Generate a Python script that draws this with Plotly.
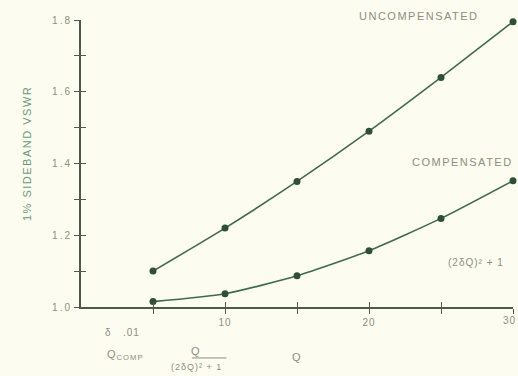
import plotly.graph_objects as go

# data
q_vals = [5, 10, 15, 20, 25, 30]
vswr_uncomp = [1.10, 1.22, 1.35, 1.49, 1.64, 1.795]
vswr_comp = [1.015, 1.037, 1.087, 1.157, 1.247, 1.352]

y_major = [1.0, 1.2, 1.4, 1.6, 1.8]
y_minor = [1.1, 1.3, 1.5, 1.7]
y_labels = ["1.0", "1.2", "1.4", "1.6", "1.8"]
x_major = [10, 20, 30]
x_minor = [5, 15, 25]
x_labels = ["10", "20", "30"]

X_RANGE = [0, 30]
Y_RANGE = [1.0, 1.8]

bg = "#fcfcf0"
axis_col = "#4d5a4a"
line_col = "#3f6a50"
text_col = "#8c8f80"
font = "Liberation Sans, Arial, sans-serif"


def px(x):
    return (x - X_RANGE[0]) / (X_RANGE[1] - X_RANGE[0])


def py(y):
    return (y - Y_RANGE[0]) / (Y_RANGE[1] - Y_RANGE[0])


def spaced(t, sp=1):
    return f'<span style="letter-spacing:{sp}px">{t}</span>'


fig = go.Figure()

for yv in (vswr_uncomp, vswr_comp):
    fig.add_trace(go.Scatter(
        x=q_vals, y=yv, mode="lines+markers",
        line=dict(color=line_col, width=1.6, shape="spline", smoothing=0.6),
        marker=dict(color="#2f4f3a", size=7),
        showlegend=False, cliponaxis=False))

# dummy trace so the overlaid axes show up (inside ticks -> crossing ticks)
fig.add_trace(go.Scatter(x=[0], y=[1.0], xaxis="x2", yaxis="y2",
                         mode="markers", marker=dict(opacity=0),
                         showlegend=False, hoverinfo="skip"))

axis_common = dict(showgrid=False, zeroline=False, showline=True,
                   linecolor=axis_col, linewidth=2, tickcolor=axis_col,
                   tickwidth=1.2, ticklen=5, automargin=False, ticks="outside",
                   tickfont=dict(family=font, size=10, color=text_col))
minor_common = dict(ticks="outside", ticklen=5, tickwidth=1.2,
                    tickcolor=axis_col, showgrid=False)
overlay_common = dict(showticklabels=False, ticks="inside", showgrid=False,
                      zeroline=False, tickcolor=axis_col, ticklen=5,
                      tickwidth=1.2, automargin=False)

fig.update_layout(
    width=518, height=376,
    margin=dict(l=81, r=5, t=20, b=69, autoexpand=False),
    paper_bgcolor=bg, plot_bgcolor=bg,
    font=dict(family=font, color=text_col),
    # last label sits on the page edge, drawn separately below
    xaxis=dict(range=X_RANGE, tickvals=x_major[:-1],
               ticktext=[spaced(t) for t in x_labels[:-1]],
               minor=dict(tickvals=x_minor + x_major[-1:], **minor_common),
               **axis_common),
    yaxis=dict(range=Y_RANGE, tickvals=y_major,
               ticktext=[spaced(t, 2) for t in y_labels],
               minor=dict(tickvals=y_minor, **minor_common), **axis_common),
    xaxis2=dict(range=X_RANGE, overlaying="x", tickvals=x_minor + x_major[:-1],
                **overlay_common),
    yaxis2=dict(range=Y_RANGE, overlaying="y", tickvals=y_minor + y_major[1:-1],
                **overlay_common),
)

fig.add_annotation(x=1.0116, y=0, xref="paper", yref="paper",
                   xanchor="right", yanchor="top", yshift=-6,
                   text=spaced(x_labels[-1]), showarrow=False,
                   font=dict(family=font, size=10, color=text_col))

notes = [
    (23.5, 1.811, "UNCOMPENSATED", 11, 1.5),
    (26.5, 1.404, "COMPENSATED", 11, 1.5),
    (27.4, 1.123, "(2δQ)² + 1", 10, 1),
    (2.9, 0.930, "δ   .01", 10, 1),
    (3.1, 0.866, "Q<sub>COMP</sub>", 11, 1),
    (8.0, 0.877, "Q", 11, 1),
    (8.0, 0.833, "(2δQ)² + 1", 9, 1),
    (15.0, 0.861, "Q", 11, 1),
]
for x, y, t, s, sp in notes:
    fig.add_annotation(x=px(x), y=py(y), xref="paper", yref="paper",
                       xanchor="center", yanchor="middle",
                       text=spaced(t, sp), showarrow=False,
                       font=dict(family=font, size=s, color=text_col))

# y axis title
fig.add_annotation(x=-0.125, y=0.533, xref="paper", yref="paper",
                   xanchor="center", yanchor="middle",
                   text=spaced("1% SIDEBAND VSWR", 1.5), textangle=-90,
                   showarrow=False,
                   font=dict(family=font, size=11, color="#6a9a78"))

# fraction bar under Q
fig.add_shape(type="line", xref="paper", yref="paper", x0=px(7.7), x1=px(10.1),
              y0=py(0.858), y1=py(0.858), line=dict(color=text_col, width=1))

fig.write_html("out.html", config={"displayModeBar": False},
               post_script="document.body.style.margin='0';"
                           "document.body.style.overflow='hidden';")
